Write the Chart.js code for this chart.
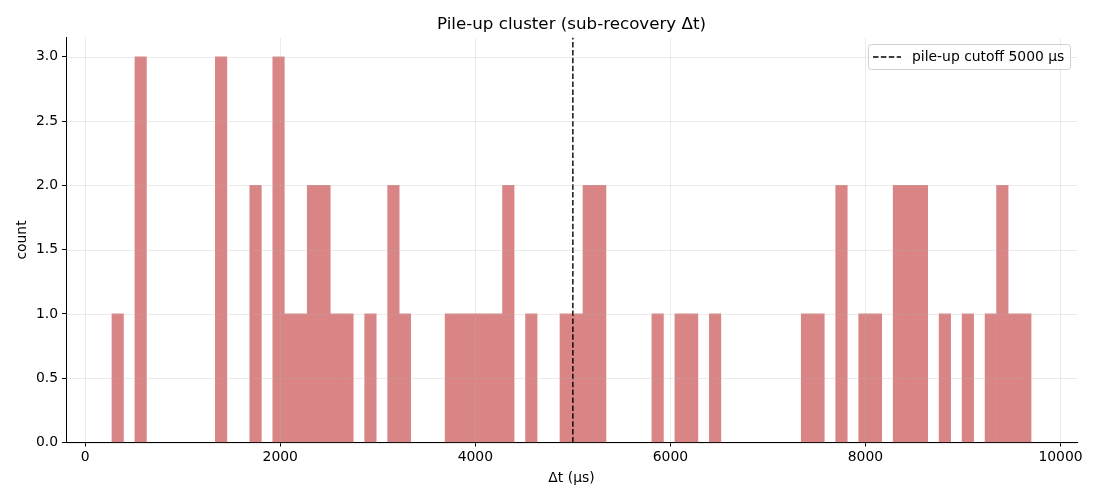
<!DOCTYPE html>
<html>
<head>
<meta charset="utf-8">
<script src="https://cdn.jsdelivr.net/npm/chart.js@4/dist/chart.umd.min.js"></script>
<style>
html,body{margin:0;padding:0;background:#fff;}
#wrap{width:1100px;height:500px;position:relative;}
</style>
</head>
<body>
<div id="wrap"><canvas id="c" width="1100" height="500"></canvas></div>
<script>
// ---- data ----
const binStart = 274;      // left edge of first bin (µs)
const binWidth = 117.8;    // bin width (µs)
const counts = [
  1,0,3,0,0,0,0,0,0,3,
  0,0,2,0,3,1,1,2,2,1,
  1,0,1,0,2,1,0,0,0,1,
  1,1,1,1,2,0,1,0,0,1,
  1,2,2,0,0,0,0,1,0,1,
  1,0,1,0,0,0,0,0,0,0,
  1,1,0,2,0,1,1,0,2,2,
  2,0,1,0,1,0,1,2,1,1
];
const cutoff = 5000;
const xTicks = [0, 2000, 4000, 6000, 8000, 10000];
const yTicks = [0.0, 0.5, 1.0, 1.5, 2.0, 2.5, 3.0];
const titleText = 'Pile-up cluster (sub-recovery Δt)';
const xLabel = 'Δt (µs)';
const yLabel = 'count';
const legendText = 'pile-up cutoff 5000 µs';

const histData = counts.map((c, i) => ({x: binStart + (i + 0.5) * binWidth, y: c}));
const xMin = binStart - 0.05 * counts.length * binWidth;
const xMax = binStart + counts.length * binWidth + 0.05 * counts.length * binWidth;
const yMax = Math.max(...counts) * 1.05;

const FONT = 'DejaVu Sans';
const DASH = [5.5, 2.4];
const BAR = 'rgb(218,133,133)';

const overlay = {
  id: 'overlay',
  afterDatasetsDraw(chart) {
    const ctx = chart.ctx, a = chart.chartArea;
    const xs = chart.scales.x, ys = chart.scales.y;
    ctx.save();
    ctx.strokeStyle = 'rgba(176,176,176,0.33)';
    ctx.lineWidth = 0.8;
    xTicks.forEach(v => {
      const p = Math.round(xs.getPixelForValue(v)) + 0.5;
      ctx.beginPath(); ctx.moveTo(p, a.top); ctx.lineTo(p, a.bottom); ctx.stroke();
    });
    yTicks.forEach(v => {
      const p = Math.round(ys.getPixelForValue(v)) + 0.5;
      ctx.beginPath(); ctx.moveTo(a.left, p); ctx.lineTo(a.right, p); ctx.stroke();
    });
    ctx.restore();
  },
  afterDraw(chart) {
    const ctx = chart.ctx, a = chart.chartArea;
    ctx.save();
    // title
    ctx.fillStyle = '#000';
    ctx.font = '16.7px "' + FONT + '"';
    ctx.textAlign = 'center';
    ctx.textBaseline = 'middle';
    ctx.fillText(titleText, (a.left + a.right) / 2, 24.5);
    // legend
    const bx = 868.5, by = 44.5, bw = 202, bh = 25;
    ctx.fillStyle = 'rgba(255,255,255,0.8)';
    ctx.strokeStyle = '#d0d0d0';
    ctx.lineWidth = 1;
    ctx.beginPath();
    if (ctx.roundRect) ctx.roundRect(bx, by, bw, bh, 3); else ctx.rect(bx, by, bw, bh);
    ctx.fill(); ctx.stroke();
    ctx.strokeStyle = '#000';
    ctx.lineWidth = 1.3;
    ctx.setLineDash(DASH);
    ctx.beginPath(); ctx.moveTo(873, 57); ctx.lineTo(901, 57); ctx.stroke();
    ctx.setLineDash([]);
    ctx.fillStyle = '#000';
    ctx.font = '13.9px "' + FONT + '"';
    ctx.textAlign = 'left';
    ctx.textBaseline = 'middle';
    ctx.fillText(legendText, 912, 57);
    ctx.restore();
  }
};

new Chart(document.getElementById('c'), {
  type: 'bar',
  data: {
    datasets: [
      {
        type: 'line',
        label: legendText,
        data: [{x: cutoff, y: 0}, {x: cutoff, y: yMax}],
        borderColor: '#000',
        borderWidth: 1.4,
        borderDash: DASH,
        pointRadius: 0,
        fill: false,
        order: 0
      },
      {
        type: 'bar',
        label: 'count',
        data: histData,
        backgroundColor: c => (c.raw && c.raw.y > 0) ? BAR : 'rgba(0,0,0,0)',
        borderWidth: 0,
        barPercentage: 1.0,
        categoryPercentage: 1.0,
        order: 1
      }
    ]
  },
  options: {
    responsive: false,
    animation: false,
    devicePixelRatio: 1,
    layout: {padding: {top: 37.5, right: 23, left: 0, bottom: 0}},
    plugins: {legend: {display: false}, tooltip: {enabled: false}, title: {display: false}},
    scales: {
      x: {
        type: 'linear',
        min: xMin, max: xMax,
        offset: false,
        afterBuildTicks(s) { s.ticks = xTicks.map(v => ({value: v})); },
        afterFit(s) { s.height = 57.5; },
        border: {display: true, color: '#000', width: 1},
        grid: {offset: false, drawOnChartArea: false, drawTicks: true, tickLength: 4, tickColor: '#000', tickWidth: 1},
        ticks: {
          autoSkip: false, maxRotation: 0,
          padding: 3, color: '#000', font: {family: FONT, size: 13.9},
          callback: v => String(v)
        },
        title: {display: true, text: xLabel, color: '#000', font: {family: FONT, size: 13.9}, padding: {top: 0, bottom: 13}}
      },
      y: {
        type: 'linear',
        min: 0, max: yMax,
        afterBuildTicks(s) { s.ticks = yTicks.map(v => ({value: v})); },
        afterFit(s) { s.width = 66; },
        border: {display: true, color: '#000', width: 1},
        grid: {drawOnChartArea: false, drawTicks: true, tickLength: 4, tickColor: '#000', tickWidth: 1},
        ticks: {
          autoSkip: false, padding: 4, color: '#000',
          font: {family: FONT, size: 13.9},
          callback: v => Number(v).toFixed(1)
        },
        title: {display: true, text: yLabel, color: '#000', font: {family: FONT, size: 13.9}, padding: {top: 14, bottom: 0}}
      }
    }
  },
  plugins: [overlay]
});
</script>
</body>
</html>
